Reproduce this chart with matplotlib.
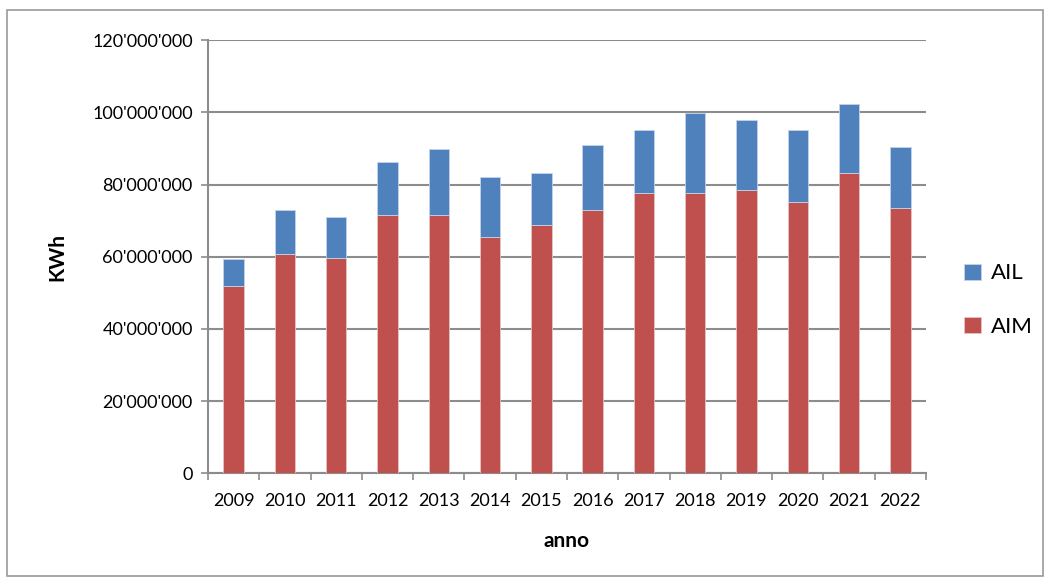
import matplotlib.pyplot as plt
import numpy as np
from matplotlib.patches import Rectangle
from matplotlib.ticker import FuncFormatter, MultipleLocator

plt.rcParams["font.family"] = ["Lato", "DejaVu Sans"]

YEARS = ["2009", "2010", "2011", "2012", "2013", "2014", "2015",
         "2016", "2017", "2018", "2019", "2020", "2021", "2022"]
AIM = [52.0, 60.8, 59.7, 71.7, 71.7, 65.4, 68.7,
       72.9, 77.6, 77.8, 78.6, 75.1, 83.3, 73.6]
TOTAL = [59.3, 73.1, 71.0, 86.4, 90.0, 82.0, 83.3,
         91.1, 95.1, 99.8, 97.8, 95.1, 102.4, 90.4]

BLUE = "#4F81BD"
RED = "#C0504D"
GRID = "#8C8C8C"

aim = np.array(AIM) * 1e6
ail = np.array(TOTAL) * 1e6 - aim
x = np.arange(len(YEARS))

fig = plt.figure(figsize=(10.5, 5.8), dpi=100)
ax = fig.add_axes([208 / 1050, 1 - 473.3 / 580, 718 / 1050, 433 / 580])

# outer chart border
fig.patches.append(Rectangle((7 / 1050, 4 / 580), 1036 / 1050, 566 / 580,
                             transform=fig.transFigure, fill=False,
                             edgecolor="#9a9a9a", linewidth=1.2))

ax.bar(x, aim, width=0.4, color=RED, edgecolor="#e6c4c3", linewidth=0.6,
       label="AIM", zorder=3)
ax.bar(x, ail, width=0.4, bottom=aim, color=BLUE, edgecolor="#c3d3ea",
       linewidth=0.6, label="AIL", zorder=3)

ax.set_xlim(-0.5, len(YEARS) - 0.5)
ax.set_ylim(0, 120e6)
ax.yaxis.set_major_locator(MultipleLocator(20e6))
ax.yaxis.set_major_formatter(
    FuncFormatter(lambda v, _: f"{int(v):,}".replace(",", "'")))
ax.grid(axis="y", color=GRID, linewidth=1.5, zorder=0)

ax.set_xticks(x)
ax.set_xticklabels(YEARS)
ax.set_xticks(np.arange(len(YEARS) + 1) - 0.5, minor=True)
ax.tick_params(axis="x", which="major", length=0, pad=14, labelsize=13)
ax.tick_params(axis="x", which="minor", length=5, width=1.2, color=GRID)
ax.tick_params(axis="y", length=5, width=1.2, color=GRID, pad=6, labelsize=13)

for side in ["top", "right"]:
    ax.spines[side].set_visible(False)
for side in ["left", "bottom"]:
    ax.spines[side].set_color(GRID)
    ax.spines[side].set_linewidth(1.5)

ax.set_xlabel("anno", fontsize=15, fontweight="bold", labelpad=16)
ax.set_ylabel("KWh", fontsize=15, fontweight="bold", labelpad=18)

handles, labels = ax.get_legend_handles_labels()
ax.legend(handles[::-1], labels[::-1], loc="center left",
          bbox_to_anchor=(1.025, 0.40), frameon=False, fontsize=16,
          handlelength=0.75, handleheight=0.75, handletextpad=0.45,
          labelspacing=1.5)

fig.savefig("out.png", dpi=100)
